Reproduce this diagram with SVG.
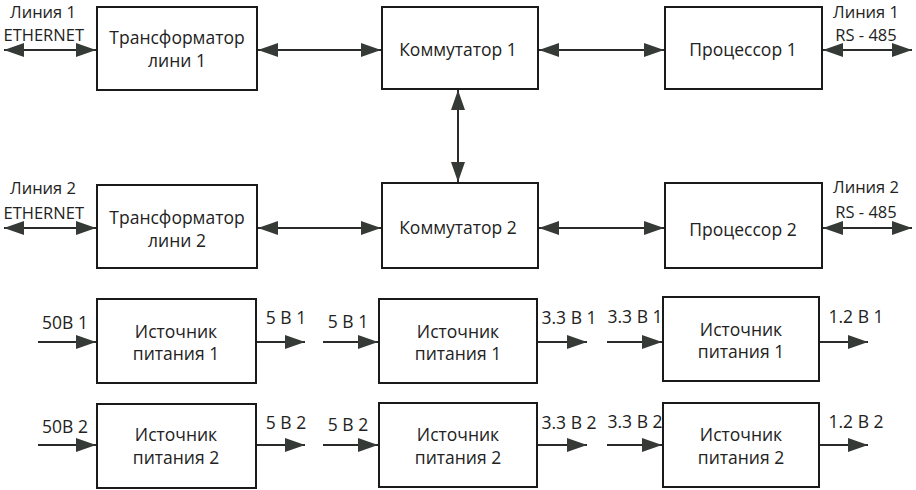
<svg xmlns="http://www.w3.org/2000/svg" width="916" height="490" viewBox="0 0 916 490">
<style>
.box{fill:#fff;stroke:#1a1a1a;stroke-width:2}
.t{font-family:"Open Sans","Noto Sans",sans-serif;font-size:17.5px;fill:#222;text-anchor:middle}
.s{font-size:16.5px}
.c{stroke:#2a2a2a;stroke-width:2;fill:none}
.one{marker-end:url(#ah)}
.two{marker-start:url(#ah);marker-end:url(#ah)}
</style>
<defs>
<marker id="ah" markerUnits="userSpaceOnUse" markerWidth="22" markerHeight="16" refX="20" refY="8" orient="auto-start-reverse">
<path d="M0,1 L20,8 L0,15 Z" fill="#353a37"/>
</marker>
</defs>
<rect width="916" height="490" fill="#fff"/>
<g id="connectors">
<line class="c two" x1="4" y1="50" x2="96" y2="50"/>
<line class="c two" x1="258" y1="50" x2="381" y2="50"/>
<line class="c two" x1="539" y1="50" x2="664" y2="50"/>
<line class="c two" x1="823" y1="50" x2="912" y2="50"/>
<line class="c two" x1="458" y1="90" x2="458" y2="182"/>
<line class="c two" x1="4" y1="228" x2="96" y2="228"/>
<line class="c two" x1="258" y1="228" x2="381" y2="228"/>
<line class="c two" x1="539" y1="228" x2="664" y2="228"/>
<line class="c two" x1="823" y1="228" x2="912" y2="228"/>
<line class="c one" x1="38" y1="342" x2="96" y2="342"/>
<line class="c one" x1="257" y1="342" x2="305" y2="342"/>
<line class="c one" x1="323" y1="342" x2="378" y2="342"/>
<line class="c one" x1="538" y1="342" x2="587" y2="342"/>
<line class="c one" x1="607" y1="342" x2="662" y2="342"/>
<line class="c one" x1="820" y1="342" x2="868" y2="342"/>
<line class="c one" x1="38" y1="445" x2="96" y2="445"/>
<line class="c one" x1="257" y1="445" x2="305" y2="445"/>
<line class="c one" x1="323" y1="445" x2="378" y2="445"/>
<line class="c one" x1="538" y1="445" x2="587" y2="445"/>
<line class="c one" x1="607" y1="445" x2="662" y2="445"/>
<line class="c one" x1="820" y1="445" x2="868" y2="445"/>
</g>
<g id="labels">
<text class="t s" x="43" y="18">Линия 1</text>
<text class="t s" x="84" y="41" style="text-anchor:end">ETHERNET</text>
<text class="t s" x="866" y="18">Линия 1</text>
<text class="t s" x="866" y="41">RS - 485</text>
<text class="t s" x="43" y="194">Линия 2</text>
<text class="t s" x="84" y="219" style="text-anchor:end">ETHERNET</text>
<text class="t s" x="866" y="193">Линия 2</text>
<text class="t s" x="866" y="218">RS - 485</text>
<text class="t" x="65" y="329">50В 1</text>
<text class="t" x="286" y="324">5 В 1</text>
<text class="t" x="348" y="328">5 В 1</text>
<text class="t" x="569" y="324">3.3 В 1</text>
<text class="t" x="635" y="323">3.3 В 1</text>
<text class="t" x="856" y="323">1.2 В 1</text>
<text class="t" x="65" y="433">50В 2</text>
<text class="t" x="286" y="429">5 В 2</text>
<text class="t" x="348" y="431">5 В 2</text>
<text class="t" x="569" y="429">3.3 В 2</text>
<text class="t" x="635" y="428">3.3 В 2</text>
<text class="t" x="856" y="428">1.2 В 2</text>
</g>
<g id="transformer1"><rect class="box" x="97" y="7" width="160" height="83"/><text class="t" x="177" y="44">Трансформатор</text><text class="t" x="177" y="67">лини 1</text></g>
<g id="switch1"><rect class="box" x="382" y="7" width="156" height="82"/><text class="t" x="458" y="56">Коммутатор 1</text></g>
<g id="processor1"><rect class="box" x="665" y="7" width="157" height="82"/><text class="t" x="743" y="56">Процессор 1</text></g>
<g id="transformer2"><rect class="box" x="97" y="185" width="160" height="83"/><text class="t" x="177" y="224">Трансформатор</text><text class="t" x="177" y="247">лини 2</text></g>
<g id="switch2"><rect class="box" x="382" y="183" width="156" height="85"/><text class="t" x="458" y="234">Коммутатор 2</text></g>
<g id="processor2"><rect class="box" x="665" y="183" width="157" height="85"/><text class="t" x="743" y="236">Процессор 2</text></g>
<g id="ps1a"><rect class="box" x="97" y="299" width="159" height="84"/><text class="t" x="176" y="338">Источник</text><text class="t" x="176" y="360">питания 1</text></g>
<g id="ps1b"><rect class="box" x="379" y="299" width="158" height="84"/><text class="t" x="458" y="338">Источник</text><text class="t" x="458" y="360">питания 1</text></g>
<g id="ps1c"><rect class="box" x="663" y="297" width="156" height="84"/><text class="t" x="741" y="336">Источник</text><text class="t" x="741" y="358">питания 1</text></g>
<g id="ps2a"><rect class="box" x="97" y="404" width="159" height="84"/><text class="t" x="176" y="441">Источник</text><text class="t" x="176" y="464">питания 2</text></g>
<g id="ps2b"><rect class="box" x="379" y="403" width="158" height="84"/><text class="t" x="458" y="441">Источник</text><text class="t" x="458" y="464">питания 2</text></g>
<g id="ps2c"><rect class="box" x="663" y="403" width="156" height="84"/><text class="t" x="741" y="441">Источник</text><text class="t" x="741" y="464">питания 2</text></g>
</svg>
